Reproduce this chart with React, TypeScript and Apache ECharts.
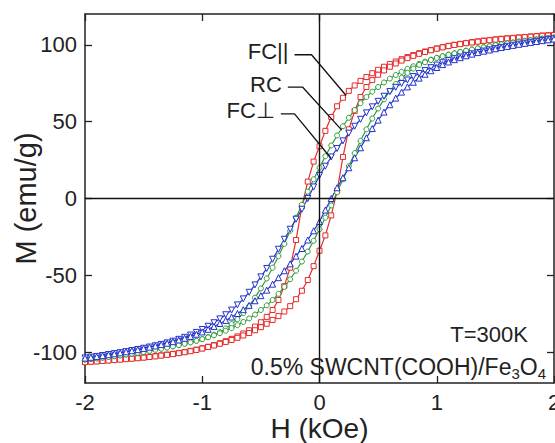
import { useEffect, useRef } from "react";
import * as echarts from "echarts";

// Applied field H (kOe), shared by every branch
const fieldKOe = [
  -2, -1.95, -1.9, -1.85, -1.8, -1.75, -1.7, -1.65, -1.6, -1.55,
  -1.5, -1.45, -1.4, -1.35, -1.3, -1.25, -1.2, -1.15, -1.1, -1.05,
  -1, -0.95, -0.9, -0.85, -0.8, -0.75, -0.7, -0.65, -0.6, -0.55,
  -0.5, -0.45, -0.4, -0.35, -0.3, -0.25, -0.2, -0.15, -0.1, -0.05,
  0,
  0.05, 0.1, 0.15, 0.2, 0.25, 0.3, 0.35, 0.4, 0.45, 0.5,
  0.55, 0.6, 0.65, 0.7, 0.75, 0.8, 0.85, 0.9, 0.95, 1,
  1.05, 1.1, 1.15, 1.2, 1.25, 1.3, 1.35, 1.4, 1.45, 1.5,
  1.55, 1.6, 1.65, 1.7, 1.75, 1.8, 1.85, 1.9, 1.95, 2,
];

// FC|| (red squares): descending (upper) and ascending (lower) branches, M (emu/g)
const fcParDesc = [
  -106.3, -106.0, -105.8, -105.5, -105.2, -104.9, -104.6, -104.3, -104.0, -103.7,
  -103.3, -102.9, -102.5, -102.0, -101.5, -101.0, -100.4, -99.8, -99.1, -98.3,
  -97.4, -96.4, -95.3, -94.1, -92.8, -91.3, -89.7, -87.8, -85.7, -83.3,
  -80.5, -77.0, -72.5, -66.0, -57.0, -45.0, -27.0, -5.0, 11.0, 24.0,
  34.0,
  44.0, 53.0, 60.0, 65.5, 70.0, 73.5, 76.5, 79.0, 81.5, 83.7,
  85.7, 87.5, 89.1, 90.6, 92.0, 93.3, 94.5, 95.6, 96.6, 97.6,
  98.5, 99.3, 100.0, 100.6, 101.2, 101.7, 102.2, 102.7, 103.1, 103.5,
  103.9, 104.2, 104.5, 104.8, 105.1, 105.4, 105.7, 106.0, 106.2, 106.5,
];
const fcParAsc = [
  -106.5, -106.2, -106.0, -105.7, -105.4, -105.1, -104.8, -104.5, -104.2, -103.9,
  -103.5, -103.1, -102.7, -102.2, -101.7, -101.2, -100.6, -100.0, -99.3, -98.5,
  -97.6, -96.6, -95.6, -94.5, -93.3, -92.0, -90.6, -89.1, -87.5, -85.7,
  -83.7, -81.5, -79.0, -76.5, -73.5, -70.0, -65.5, -60.0, -53.0, -44.0,
  -34.0,
  -24.0, -11.0, 5.0, 27.0, 45.0, 57.0, 66.0, 72.5, 77.0, 80.5,
  83.3, 85.7, 87.8, 89.7, 91.3, 92.8, 94.1, 95.3, 96.4, 97.4,
  98.3, 99.1, 99.8, 100.4, 101.0, 101.5, 102.0, 102.5, 102.9, 103.3,
  103.7, 104.0, 104.3, 104.6, 104.9, 105.2, 105.5, 105.8, 106.0, 106.3,
];

// RC (green circles)
const rcDesc = [
  -104.7, -104.3, -103.9, -103.4, -103.0, -102.5, -102.0, -101.4, -100.9, -100.3,
  -99.7, -99.0, -98.3, -97.6, -96.9, -96.1, -95.3, -94.4, -93.5, -92.5,
  -91.4, -90.1, -88.6, -86.9, -84.5, -81.7, -78.5, -74.5, -70.0, -64.5,
  -58.5, -52.0, -45.0, -37.5, -29.5, -21.0, -12.5, -4.0, 4.5, 12.5,
  20.0,
  27.5, 34.5, 41.0, 47.0, 52.5, 57.5, 62.0, 66.0, 69.5, 72.5,
  75.5, 78.0, 80.3, 82.4, 84.3, 86.0, 87.6, 89.0, 90.3, 91.5,
  92.6, 93.6, 94.5, 95.4, 96.2, 97.0, 97.7, 98.4, 99.1, 99.8,
  100.4, 101.0, 101.5, 102.1, 102.6, 103.1, 103.5, 104.0, 104.4, 104.8,
];
const rcAsc = [
  -104.8, -104.4, -104.0, -103.5, -103.1, -102.6, -102.1, -101.5, -101.0, -100.4,
  -99.8, -99.1, -98.4, -97.7, -97.0, -96.2, -95.4, -94.5, -93.6, -92.6,
  -91.5, -90.3, -89.0, -87.6, -86.0, -84.3, -82.4, -80.3, -78.0, -75.5,
  -72.5, -69.5, -66.0, -62.0, -57.5, -52.5, -47.0, -41.0, -34.5, -27.5,
  -20.0,
  -12.5, -4.5, 4.0, 12.5, 21.0, 29.5, 37.5, 45.0, 52.0, 58.5,
  64.5, 70.0, 74.5, 78.5, 81.7, 84.5, 86.9, 88.6, 90.1, 91.4,
  92.5, 93.5, 94.4, 95.3, 96.1, 96.9, 97.6, 98.3, 99.0, 99.7,
  100.3, 100.9, 101.4, 102.0, 102.5, 103.0, 103.4, 103.9, 104.3, 104.7,
];

// FC⊥ (blue triangles)
const fcPerpDesc = [
  -103.7, -103.2, -102.7, -102.1, -101.5, -100.9, -100.3, -99.6, -98.9, -98.2,
  -97.4, -96.6, -95.8, -94.9, -93.9, -92.8, -91.6, -90.3, -88.8, -87.1,
  -85.2, -83.1, -80.8, -78.3, -75.6, -72.6, -69.2, -65.3, -61.0, -56.2,
  -51.0, -45.5, -39.5, -33.0, -26.5, -20.0, -13.5, -7.0, 0.0, 7.5,
  15.0,
  21.0, 27.0, 32.5, 37.5, 42.5, 47.0, 51.5, 55.7, 59.6, 63.2,
  66.5, 69.5, 72.3, 74.8, 77.1, 79.3, 81.3, 83.2, 85.1, 86.8,
  88.3, 89.7, 90.9, 92.0, 93.1, 94.1, 95.0, 95.9, 96.7, 97.5,
  98.3, 99.0, 99.7, 100.4, 101.0, 101.6, 102.2, 102.8, 103.3, 103.8,
];
const fcPerpAsc = [
  -103.8, -103.3, -102.8, -102.2, -101.6, -101.0, -100.4, -99.7, -99.0, -98.3,
  -97.5, -96.7, -95.9, -95.0, -94.1, -93.1, -92.0, -90.9, -89.7, -88.3,
  -86.8, -85.1, -83.2, -81.3, -79.3, -77.1, -74.8, -72.3, -69.5, -66.5,
  -63.2, -59.6, -55.7, -51.5, -47.0, -42.5, -37.5, -32.5, -27.0, -21.0,
  -15.0,
  -7.5, 0.0, 7.0, 13.5, 20.0, 26.5, 33.0, 39.5, 45.5, 51.0,
  56.2, 61.0, 65.3, 69.2, 72.6, 75.6, 78.3, 80.8, 83.1, 85.2,
  87.1, 88.8, 90.3, 91.6, 92.8, 93.9, 94.9, 95.8, 96.6, 97.4,
  98.2, 98.9, 99.6, 100.3, 100.9, 101.5, 102.1, 102.7, 103.2, 103.7,
];

// Axis ticks
const xTicks = [-2, -1, 0, 1, 2];
const yTicks = [-100, -50, 0, 50, 100];

// Leader lines (data coordinates) and their labels
const leaderLabels = ["FC||", "RC", "FC\u22a5"];
const leaderFCpar = [[-0.213, 93.5], [-0.068, 93.5], [0.227, 67]];
const leaderRC = [[-0.27, 72.5], [-0.145, 72.5], [0.19, 44.5]];
const leaderFCperp = [[-0.33, 55], [-0.213, 55], [0.1, 26]];

const FONT = '"Liberation Sans", Arial, Helvetica, sans-serif';
const RED = "#e62a2a";
const GREEN = "#2f9b37";
const BLUE = "#2233cc";

export default function App() {
  const ref = useRef<HTMLDivElement>(null);

  useEffect(() => {
    const chart = echarts.init(ref.current!, null, { renderer: "svg" });
    const pairs = (ms: number[]) => fieldKOe.map((h, i) => [h, ms[i]]);
    const desc = (ms: number[]) => pairs(ms).reverse();

    const curve = (
      name: string,
      data: number[][],
      color: string,
      symbol: string,
      size: number,
      rotate = 0
    ) => ({
      type: "line",
      name,
      data,
      symbol,
      symbolSize: size,
      symbolRotate: rotate,
      showSymbol: true,
      lineStyle: { color, width: 1.2 },
      itemStyle: { color: "#ffffff", borderColor: color, borderWidth: 1 },
      emphasis: { disabled: true },
      silent: true,
    });

    const leader = (data: number[][], withZero = false) => ({
      type: "line",
      data,
      symbol: "none",
      lineStyle: { color: "#111", width: 1.3 },
      silent: true,
      z: 5,
      ...(withZero
        ? {
            markLine: {
              silent: true,
              symbol: ["none", "none"],
              label: { show: false },
              lineStyle: { color: "#111", width: 1.4, type: "solid" },
              data: [{ xAxis: 0 }, { yAxis: 0 }],
            },
          }
        : {}),
    });

    const axisCommon = {
      axisLine: { show: true, onZero: false, lineStyle: { color: "#222", width: 1.5 } },
      splitLine: { show: false },
    };

    chart.setOption({
      animation: false,
      backgroundColor: "#ffffff",
      grid: {
        left: 85,
        top: 14,
        right: 1,
        bottom: 60,
        containLabel: false,
        outerBoundsMode: "none",
      },
      xAxis: [
        {
          type: "value",
          min: -2,
          max: 2,
          interval: 1,
          position: "bottom",
          ...axisCommon,
          axisTick: { inside: true, length: 7, lineStyle: { color: "#222", width: 1.3 } },
          axisLabel: {
            margin: 9,
            fontSize: 22,
            lineHeight: 20,
            fontFamily: FONT,
            color: "#222",
            customValues: xTicks,
          },
          name: "H (kOe)",
          nameLocation: "middle",
          nameGap: 31,
          nameMoveOverlap: false,
          nameTextStyle: { fontSize: 28, lineHeight: 28, fontFamily: FONT, color: "#222" },
        },
        {
          type: "value",
          min: -2,
          max: 2,
          interval: 1,
          position: "top",
          ...axisCommon,
          axisTick: { inside: true, length: 7, lineStyle: { color: "#222", width: 1.3 } },
          axisLabel: { show: false },
        },
      ],
      yAxis: [
        {
          type: "value",
          min: -120,
          max: 120,
          position: "left",
          ...axisCommon,
          axisTick: {
            inside: true,
            length: 7,
            customValues: yTicks,
            lineStyle: { color: "#222", width: 1.3 },
          },
          axisLabel: {
            margin: 8,
            fontSize: 22,
            fontFamily: FONT,
            color: "#222",
            customValues: yTicks,
          },
          name: "M (emu/g)",
          nameLocation: "middle",
          nameGap: 45,
          nameMoveOverlap: false,
          nameTextStyle: { fontSize: 29, fontFamily: FONT, color: "#222" },
        },
        {
          type: "value",
          min: -120,
          max: 120,
          position: "right",
          ...axisCommon,
          axisTick: {
            inside: true,
            length: 7,
            customValues: yTicks,
            lineStyle: { color: "#222", width: 1.3 },
          },
          axisLabel: { show: false },
        },
      ],
      series: [
        curve("FC|| desc", desc(fcParDesc), RED, "rect", 5),
        curve("FC|| asc", pairs(fcParAsc), RED, "rect", 5),
        curve("RC desc", desc(rcDesc), GREEN, "circle", 5),
        curve("RC asc", pairs(rcAsc), GREEN, "circle", 5),
        curve("FC\u22a5 desc", desc(fcPerpDesc), BLUE, "triangle", 6, 180),
        curve("FC\u22a5 asc", pairs(fcPerpAsc), BLUE, "triangle", 6),
        leader(leaderFCpar, true),
        leader(leaderRC),
        leader(leaderFCperp),
      ],
    });

    const starts = [leaderFCpar[0], leaderRC[0], leaderFCperp[0]];
    const labelGraphics = starts.map((pt, i) => {
      const p = chart.convertToPixel({ gridIndex: 0 }, pt) as number[];
      return {
        type: "text",
        x: p[0] - 6,
        y: p[1] - 3,
        z: 10,
        style: {
          text: leaderLabels[i],
          align: "right",
          verticalAlign: "middle",
          font: `22px ${FONT}`,
          fill: "#222",
        },
      };
    });

    chart.setOption({
      graphic: [
        ...labelGraphics,
        {
          type: "text",
          x: 528,
          y: 334,
          z: 10,
          style: {
            text: "T=300K",
            align: "right",
            verticalAlign: "middle",
            font: `22px ${FONT}`,
            fill: "#222",
          },
        },
        {
          type: "text",
          x: 546,
          y: 367,
          z: 10,
          style: {
            text: "{m|0.5% SWCNT(COOH)/Fe}{s|3}{m|O}{s|4}",
            align: "right",
            verticalAlign: "middle",
            font: `23px ${FONT}`,
            fill: "#222",
            rich: {
              m: { fontSize: 23, lineHeight: 28, fontFamily: FONT, fill: "#222" },
              s: {
                fontSize: 15,
                lineHeight: 15,
                verticalAlign: "bottom",
                fontFamily: FONT,
                fill: "#222",
              },
            },
          },
        },
      ],
    });

    return () => chart.dispose();
  }, []);

  return (
    <div
      ref={ref}
      style={{ position: "absolute", left: 0, top: 0, width: 555, height: 443 }}
    />
  );
}
